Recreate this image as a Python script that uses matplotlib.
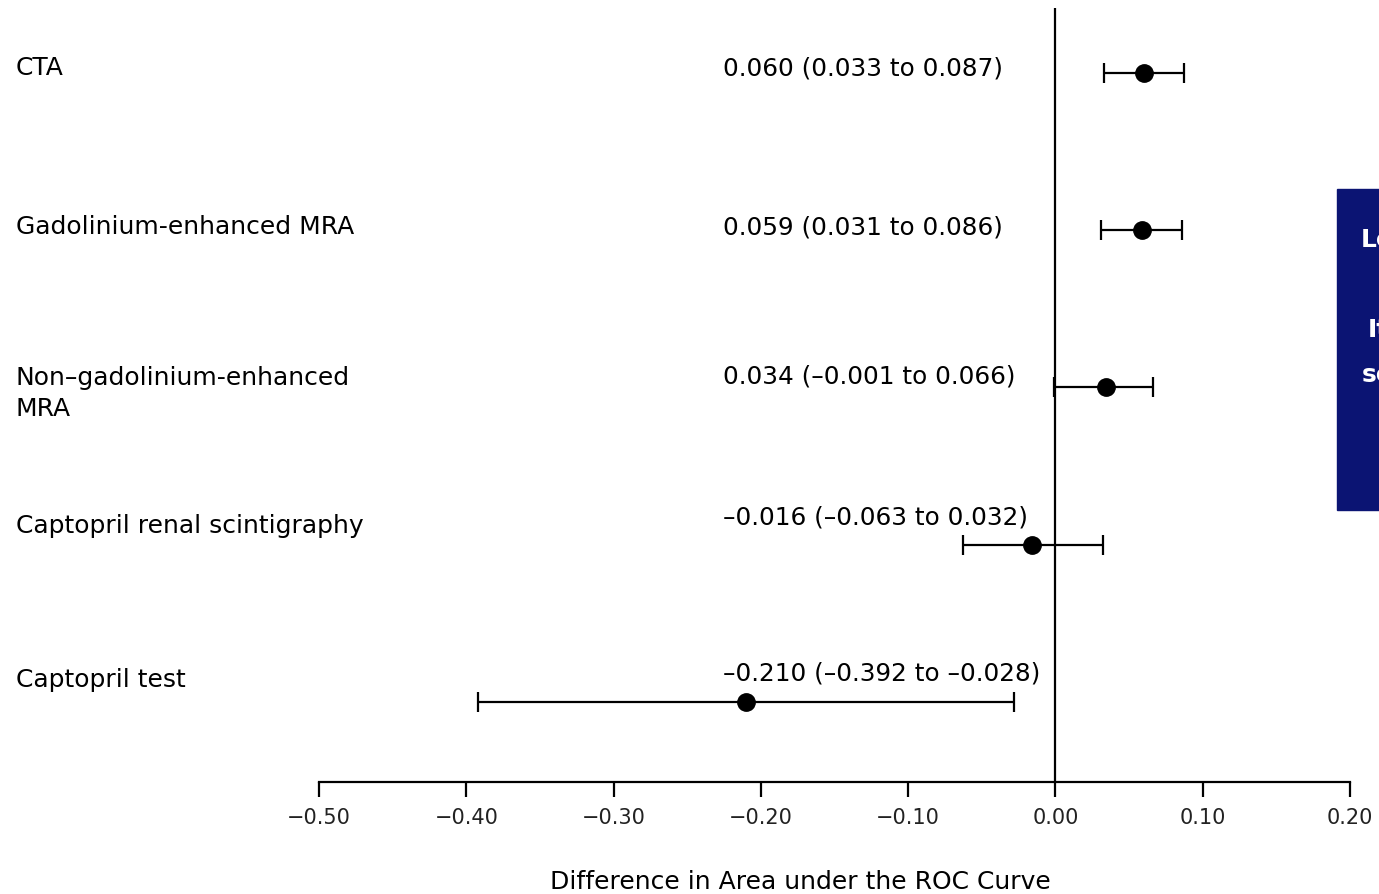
import matplotlib
matplotlib.use("Agg")
from matplotlib import pyplot as plt
from matplotlib import transforms
import matplotlib.patches as mpatches

# Data
tests = [
    "CTA",
    "Gadolinium-enhanced MRA",
    "Non\u2013gadolinium-enhanced\nMRA",
    "Captopril renal scintigraphy",
    "Captopril test",
]
estimate = [0.060, 0.059, 0.034, -0.016, -0.210]
ci_low = [0.033, 0.031, -0.001, -0.063, -0.392]
ci_high = [0.087, 0.086, 0.066, 0.032, -0.028]
xticks = [-0.50, -0.40, -0.30, -0.20, -0.10, 0.00, 0.10, 0.20]


def fmt(v):
    return f"{v:.3f}".replace("-", "\u2013")


annot = [f"{fmt(e)} ({fmt(l)} to {fmt(h)})" for e, l, h in zip(estimate, ci_low, ci_high)]

W, H = 1379, 894
fig = plt.figure(figsize=(W / 100, H / 100), dpi=100)
ax = fig.add_axes([319 / W, 1 - 782 / H, (1350 - 319) / W, (782 - 8) / H])

n = len(tests)
ypos = list(range(n - 1, -1, -1))

# error bars and points
for y, e, l, h in zip(ypos, estimate, ci_low, ci_high):
    ax.errorbar(e, y, xerr=[[e - l], [h - e]], fmt="o", color="black",
                markersize=12.5, elinewidth=1.6, capsize=7, capthick=1.6, zorder=3)

ax.axvline(0, color="black", linewidth=1.6, zorder=2)

ax.set_xlim(-0.5, 0.2)
ax.set_ylim(-0.51, n - 1 + 0.414)
ax.set_xticks(xticks)
ax.set_xticklabels([f"{t:.2f}".replace("-", "\u2212") for t in xticks],
                   fontsize=15, color="#222222")
ax.set_yticks([])
for s in ["top", "right", "left"]:
    ax.spines[s].set_visible(False)
ax.spines["bottom"].set_linewidth(1.6)
ax.tick_params(axis="x", direction="out", length=11, width=1.6, pad=8)

# label offsets (pixels above the dot row)
label_dy = [5, 3, -6, 19, 22]
annot_dy = [5, 3, 11, 27, 28]
px = 157.25  # pixels per row unit

trans_lab = transforms.blended_transform_factory(fig.transFigure, ax.transData)
trans_ann = transforms.blended_transform_factory(ax.transAxes, ax.transData)
for y, name, txt, ld, ad in zip(ypos, tests, annot, label_dy, annot_dy):
    ax.text(16 / W, y + ld / px, name, transform=trans_lab, ha="left", va="center",
            fontsize=18, linespacing=1.4, clip_on=False)
    ax.text((723 - 319) / 1031, y + ad / px, txt, transform=trans_ann, ha="left",
            va="center", fontsize=17.8, clip_on=False)

fig.text(800 / W, 1 - 882 / H, "Difference in Area under the ROC Curve",
         ha="center", va="center", fontsize=18)

# navy panel clipped at right edge
fig.patches.append(mpatches.Rectangle((1337 / W, 1 - 510 / H), 60 / W, 321 / H,
                                      transform=fig.transFigure, color="#0b1473",
                                      zorder=5))
for xx, yy, s in [(1361, 240, "Le"), (1368, 330, "It"), (1362, 375, "se")]:
    fig.text(xx / W, 1 - yy / H, s, color="white", fontsize=18,
             fontweight="bold", va="center", ha="left", zorder=6)

fig.savefig("out.png", dpi=100)
